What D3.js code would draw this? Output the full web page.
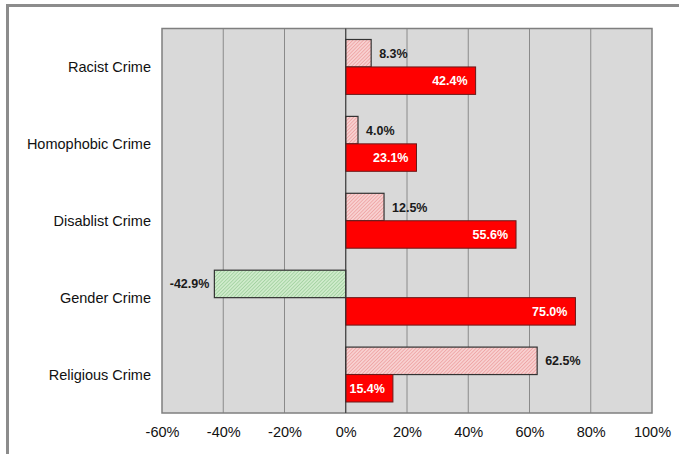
<!DOCTYPE html>
<html>
<head>
<meta charset="utf-8">
<script src="https://cdn.jsdelivr.net/npm/d3@7"></script>
<style>
  html, body { margin: 0; padding: 0; background: #fff; }
  svg { display: block; }
  text { font-family: "Liberation Sans", Arial, sans-serif; }
</style>
</head>
<body>
<svg id="chart" width="679" height="454"></svg>
<script>
const categories = ["Racist Crime", "Homophobic Crime", "Disablist Crime", "Gender Crime", "Religious Crime"];
const seriesA = [8.3, 4.0, 12.5, -42.9, 62.5];   // hatched bars
const seriesB = [42.4, 23.1, 55.6, 75.0, 15.4];  // solid red bars
const tickValues = [-60, -40, -20, 0, 20, 40, 60, 80, 100];

const svg = d3.select("#chart");
const W = 679, H = 454;
const plot = { left: 162, right: 652, top: 28.5, bottom: 413 };

// outer frame
svg.append("rect").attr("x", 7.5).attr("y", 5.5).attr("width", W + 10).attr("height", H + 10)
  .attr("fill", "#fff").attr("stroke", "#8c8c8c").attr("stroke-width", 3);

const defs = svg.append("defs");
function hatch(id, bg, line) {
  const p = defs.append("pattern").attr("id", id).attr("patternUnits", "userSpaceOnUse")
    .attr("width", 2.5).attr("height", 2.5).attr("patternTransform", "rotate(45)");
  p.append("rect").attr("width", 2.5).attr("height", 2.5).attr("fill", bg);
  p.append("line").attr("x1", 0).attr("y1", 0).attr("x2", 0).attr("y2", 2.5)
    .attr("stroke", line).attr("stroke-width", 1);
}
hatch("hatchPink", "#f8d0d0", "#e88888");
hatch("hatchGreen", "#cfebcb", "#86c284");

const x = d3.scaleLinear().domain([-60, 100]).range([plot.left, plot.right]);
const y = d3.scaleBand().domain(categories).range([plot.top, plot.bottom])
  .paddingInner(0.286).paddingOuter(0.143);
const sub = d3.scaleBand().domain(["A", "B"]).range([0, y.bandwidth()]);

// plot background
svg.append("rect").attr("x", plot.left).attr("y", plot.top)
  .attr("width", plot.right - plot.left).attr("height", plot.bottom - plot.top)
  .attr("fill", "#d9d9d9");

// grid lines
svg.append("g").selectAll("line").data(tickValues.slice(1, -1)).join("line")
  .attr("x1", d => x(d)).attr("x2", d => x(d))
  .attr("y1", plot.top).attr("y2", plot.bottom)
  .attr("stroke", "#8a8a8a").attr("stroke-width", 1);

// plot border
svg.append("rect").attr("x", plot.left).attr("y", plot.top)
  .attr("width", plot.right - plot.left).attr("height", plot.bottom - plot.top)
  .attr("fill", "none").attr("stroke", "#7f7f7f").attr("stroke-width", 1.5);

// bars series A (hatched)
const gA = svg.append("g");
gA.selectAll("rect").data(seriesA).join("rect")
  .attr("x", d => x(Math.min(0, d)))
  .attr("width", d => Math.abs(x(d) - x(0)))
  .attr("y", (d, i) => y(categories[i]) + sub("A"))
  .attr("height", sub.bandwidth())
  .attr("fill", d => d < 0 ? "url(#hatchGreen)" : "url(#hatchPink)")
  .attr("stroke", "#333").attr("stroke-width", 1.2);

// bars series B (red)
const gB = svg.append("g");
gB.selectAll("rect").data(seriesB).join("rect")
  .attr("x", d => x(Math.min(0, d)))
  .attr("width", d => Math.abs(x(d) - x(0)))
  .attr("y", (d, i) => y(categories[i]) + sub("B"))
  .attr("height", sub.bandwidth())
  .attr("fill", "#ff0000")
  .attr("stroke", "#6a1a1a").attr("stroke-width", 1);

// axis line at zero
svg.append("line").attr("x1", x(0)).attr("x2", x(0)).attr("y1", plot.top).attr("y2", plot.bottom)
  .attr("stroke", "#333").attr("stroke-width", 1);

// labels series A
gA.selectAll("text").data(seriesA).join("text")
  .attr("x", d => d < 0 ? x(d) - 5 : x(d) + 8)
  .attr("y", (d, i) => y(categories[i]) + sub("A") + sub.bandwidth() / 2 + 4.5)
  .attr("text-anchor", d => d < 0 ? "end" : "start")
  .attr("font-size", 12.5).attr("font-weight", "bold").attr("fill", "#1a1a1a")
  .text(d => d.toFixed(1) + "%");

// labels series B
gB.selectAll("text").data(seriesB).join("text")
  .attr("x", d => x(d) - 8)
  .attr("y", (d, i) => y(categories[i]) + sub("B") + sub.bandwidth() / 2 + 4.5)
  .attr("text-anchor", "end")
  .attr("font-size", 12.5).attr("font-weight", "bold").attr("fill", "#ffffff")
  .text(d => d.toFixed(1) + "%");

// category labels
svg.append("g").selectAll("text").data(categories).join("text")
  .attr("x", plot.left - 11)
  .attr("y", d => y(d) + y.bandwidth() / 2 + 5)
  .attr("text-anchor", "end").attr("font-size", 14.5).attr("fill", "#111")
  .text(d => d);

// x axis tick labels
const xAxis = d3.axisBottom(x).tickValues(tickValues).tickSize(0).tickPadding(14)
  .tickFormat(d => d + "%");
const ax = svg.append("g").attr("transform", `translate(0,${plot.bottom})`).call(xAxis);
ax.select(".domain").remove();
ax.selectAll("text").attr("font-size", 14.5).attr("fill", "#111")
  .attr("font-family", "Liberation Sans, Arial, sans-serif");
</script>
</body>
</html>
